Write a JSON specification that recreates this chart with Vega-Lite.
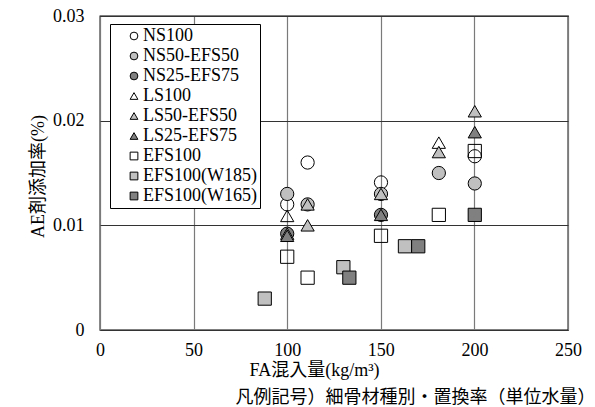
{
  "$schema": "https://vega.github.io/schema/vega-lite/v6.json",
  "width": 468,
  "height": 314,
  "autosize": "none",
  "padding": {"left": 100, "top": 16, "right": 27, "bottom": 77},
  "background": "white",
  "title": {
    "text": "凡例記号）細骨材種別・置換率（単位水量）",
    "orient": "bottom",
    "anchor": "end",
    "font": "Noto Sans CJK JP",
    "fontSize": 18,
    "fontWeight": "normal",
    "color": "#000",
    "offset": 10,
    "dx": 14
  },
  "config": {
    "view": {"stroke": "#000", "strokeWidth": 1.3},
    "legend": {
      "orient": "none",
      "legendX": 10,
      "legendY": 8,
      "title": null,
      "padding": 3,
      "strokeColor": "#000",
      "fillColor": "white",
      "labelFont": "Liberation Serif",
      "labelFontSize": 18,
      "labelColor": "#000",
      "labelOffset": 0,
      "symbolOffset": 12,
      "symbolSize": 60,
      "symbolStrokeWidth": 1,
      "rowPadding": 2,
      "labelLimit": 300
    }
  },
  "data": {
    "values": [
      {"series": "NS100", "x": 100, "y": 0.012},
      {"series": "NS100", "x": 110.9, "y": 0.016},
      {"series": "NS100", "x": 150.1, "y": 0.0141},
      {"series": "NS100", "x": 200.2, "y": 0.0166},
      {"series": "NS50-EFS50", "x": 100, "y": 0.013},
      {"series": "NS50-EFS50", "x": 110.9, "y": 0.012},
      {"series": "NS50-EFS50", "x": 150.1, "y": 0.013},
      {"series": "NS50-EFS50", "x": 181, "y": 0.015},
      {"series": "NS50-EFS50", "x": 200.2, "y": 0.014},
      {"series": "NS25-EFS75", "x": 100, "y": 0.0092},
      {"series": "NS25-EFS75", "x": 150.1, "y": 0.011},
      {"series": "LS100", "x": 100, "y": 0.0109},
      {"series": "LS100", "x": 181, "y": 0.0179},
      {"series": "LS50-EFS50", "x": 100, "y": 0.0092},
      {"series": "LS50-EFS50", "x": 110.9, "y": 0.012},
      {"series": "LS50-EFS50", "x": 110.9, "y": 0.01},
      {"series": "LS50-EFS50", "x": 150.1, "y": 0.013},
      {"series": "LS50-EFS50", "x": 181, "y": 0.017},
      {"series": "LS50-EFS50", "x": 200.2, "y": 0.0209},
      {"series": "LS25-EFS75", "x": 100, "y": 0.009},
      {"series": "LS25-EFS75", "x": 150.1, "y": 0.011},
      {"series": "LS25-EFS75", "x": 200.2, "y": 0.0189},
      {"series": "EFS100", "x": 100, "y": 0.007},
      {"series": "EFS100", "x": 110.9, "y": 0.005},
      {"series": "EFS100", "x": 150.1, "y": 0.009},
      {"series": "EFS100", "x": 181, "y": 0.011},
      {"series": "EFS100", "x": 200.2, "y": 0.0171},
      {"series": "EFS100(W185)", "x": 88, "y": 0.003},
      {"series": "EFS100(W185)", "x": 130, "y": 0.006},
      {"series": "EFS100(W185)", "x": 162.9, "y": 0.008},
      {"series": "EFS100(W165)", "x": 133.2, "y": 0.005},
      {"series": "EFS100(W165)", "x": 170, "y": 0.008},
      {"series": "EFS100(W165)", "x": 200.2, "y": 0.011}
    ]
  },
  "mark": {"type": "point", "filled": false, "strokeWidth": 1, "size": 175, "opacity": 1, "fillOpacity": 1, "strokeOpacity": 1, "clip": false},
  "encoding": {
    "x": {
      "field": "x",
      "type": "quantitative",
      "scale": {"domain": [0, 250], "nice": false, "zero": false},
      "axis": {
        "values": [0, 50, 100, 150, 200, 250],
        "title": "FA混入量(kg/m³)",
        "titleFont": "Liberation Serif, Noto Sans CJK JP",
        "titleFontSize": 18,
        "titleFontWeight": "normal",
        "titleColor": "#000",
        "titleX": 214,
        "titlePadding": 2,
        "labelFont": "Liberation Serif",
        "labelFontSize": 18,
        "labelColor": "#000",
        "labelPadding": 11,
        "labelFlush": false,
        "ticks": false,
        "tickSize": 0,
        "domain": false,
        "grid": true,
        "gridColor": "#7a7a7a",
        "gridWidth": 1.2
      }
    },
    "y": {
      "field": "y",
      "type": "quantitative",
      "scale": {"domain": [0, 0.03], "nice": false, "zero": false},
      "axis": {
        "values": [0, 0.01, 0.02, 0.03],
        "labelExpr": "datum.value == 0 ? '0' : format(datum.value, '.2f')",
        "title": "AE剤添加率(%)",
        "titleFont": "Liberation Serif, Noto Sans CJK JP",
        "titleFontSize": 18,
        "titleFontWeight": "normal",
        "titleColor": "#000",
        "titleY": 160,
        "titlePadding": 5,
        "labelFont": "Liberation Serif",
        "labelFontSize": 18,
        "labelColor": "#000",
        "labelPadding": 16,
        "labelFlush": false,
        "ticks": false,
        "tickSize": 0,
        "domain": false,
        "grid": true,
        "gridColor": "#333333",
        "gridWidth": 1.2
      }
    },
    "fill": {
      "field": "series",
      "type": "nominal",
      "sort": null,
      "scale": {
        "domain": ["NS100", "NS50-EFS50", "NS25-EFS75", "LS100", "LS50-EFS50", "LS25-EFS75", "EFS100", "EFS100(W185)", "EFS100(W165)"],
        "range": ["transparent", "#c0c0c0", "#808080", "transparent", "#c0c0c0", "#808080", "transparent", "#c0c0c0", "#808080"]
      }
    },
    "stroke": {
      "field": "series",
      "type": "nominal",
      "sort": null,
      "scale": {
        "domain": ["NS100", "NS50-EFS50", "NS25-EFS75", "LS100", "LS50-EFS50", "LS25-EFS75", "EFS100", "EFS100(W185)", "EFS100(W165)"],
        "range": ["#000", "#000", "#000", "#000", "#000", "#000", "#000", "#000", "#000"]
      }
    },
    "shape": {
      "field": "series",
      "type": "nominal",
      "sort": null,
      "scale": {
        "domain": ["NS100", "NS50-EFS50", "NS25-EFS75", "LS100", "LS50-EFS50", "LS25-EFS75", "EFS100", "EFS100(W185)", "EFS100(W165)"],
        "range": ["circle", "circle", "circle", "triangle-up", "triangle-up", "triangle-up", "square", "square", "square"]
      }
    }
  }
}
